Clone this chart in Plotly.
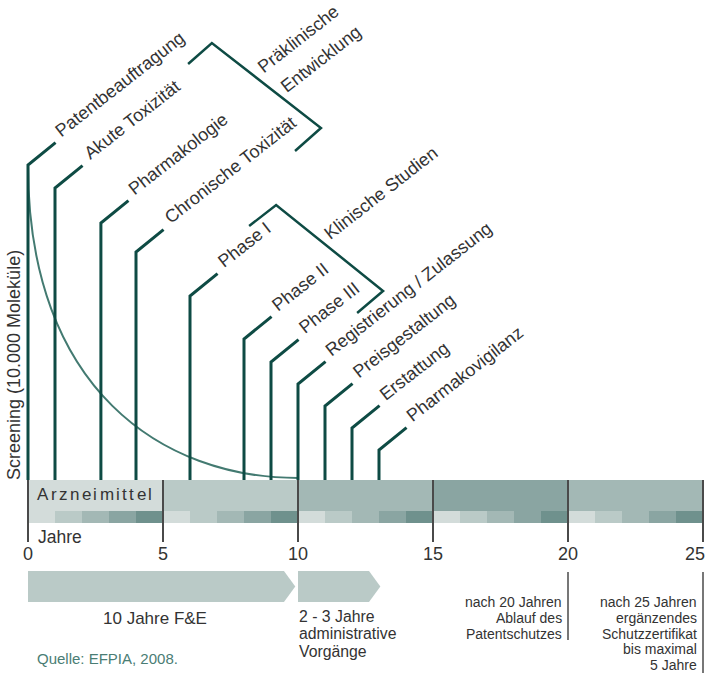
import math
import plotly.graph_objects as go

# ---------------- data ----------------
stem_labels = ["Patentbeauftragung", "Akute Toxizität", "Pharmakologie",
               "Chronische Toxizität", "Phase I", "Phase II", "Phase III",
               "Registrierung / Zulassung", "Preisgestaltung", "Erstattung",
               "Pharmakovigilanz"]
stem_years = [0, 1, 2.7, 4, 6, 8, 9, 10, 11, 12, 13]
stem_tops = [165, 188, 223, 252, 296, 339, 362, 384, 406, 428, 450]

bracket_labels = [["Präklinische", "Entwicklung"], ["Klinische Studien"]]
bracket_years = [[5.93, 6.81, 10.85, 9.89], [8.19, 9.19, 13.15, 12.19]]
bracket_levels = [[64, 43, 128, 151], [226, 205, 291, 313]]

period_starts = [0, 5, 10, 15, 20]
period_shade = [0, 1, 2, 3, 2]
shades = ["#d3dcda", "#bacac7", "#a3b8b5", "#8aa5a2", "#6f918d"]
tick_years = [0, 5, 10, 15, 20, 25]

phase_labels = [["10 Jahre F&E"], ["2 - 3 Jahre", "administrative", "Vorgänge"]]
phase_start = [0, 10]
phase_end = [9.9, 13.05]

note_years = [20, 25]
note_lines = [["nach 20 Jahren", "Ablauf des", "Patentschutzes"],
              ["nach 25 Jahren", "ergänzendes", "Schutzzertifikat", "bis maximal", "5 Jahre"]]

# ---------------- layout geometry ----------------
W_PX, H_PX = 711, 673
X0, PX = 28, 27.0          # pixel of year 0, pixels per year
def yr(p):                  # pixel -> year (for text placement)
    return (p - X0) / PX

FONT = "Liberation Sans, Arial, sans-serif"
TXT = "#333333"
STEM = "#0e4b44"
ARC = "#437a71"
GRID = "#4a4a4a"

BAR_TOP, BAR_MID, BAR_BOT = 480, 511, 523
DIAG_DX, DIAG_DY = 1.02, 22.3
ANG = math.radians(38)
U = (math.cos(ANG), -math.sin(ANG))
N = (-math.sin(ANG), -math.cos(ANG))

AW = {'A': 667, 'C': 722, 'E': 667, 'I': 278, 'K': 667, 'P': 667, 'R': 722, 'S': 667,
      'T': 611, 'Z': 611, 'a': 556, 'b': 556, 'c': 500, 'd': 556, 'e': 556, 'f': 278,
      'g': 556, 'h': 556, 'i': 222, 'j': 222, 'k': 500, 'l': 222, 'm': 833, 'n': 556,
      'o': 556, 'p': 556, 'r': 333, 's': 500, 't': 278, 'u': 556, 'v': 500, 'w': 722,
      'x': 500, 'y': 500, 'z': 500, 'ä': 556, 'ü': 556, ' ': 278, '/': 278}
def text_w(s, fs):
    return sum(AW.get(c, 556) for c in s) * fs / 1000.0

fig = go.Figure()
ann = []

def rot_label(text, sx, sy, fs=18):
    w = text_w(text, fs)
    cx = sx + (w / 2) * U[0] + 0.34 * fs * N[0]
    cy = sy + (w / 2) * U[1] + 0.34 * fs * N[1]
    ann.append(dict(x=yr(cx), y=cy, text=text, textangle=-38, showarrow=False,
                    xanchor="center", yanchor="middle",
                    font=dict(family=FONT, size=fs, color=TXT)))

# timeline bar (period blocks)
fig.add_trace(go.Bar(x=[s + 2.5 for s in period_starts], y=[BAR_MID - BAR_TOP] * 5,
                     base=[BAR_TOP] * 5, width=[5] * 5,
                     marker=dict(color=[shades[k] for k in period_shade], line=dict(width=0)),
                     hoverinfo="skip"))
# yearly shade strip
sx, sc = [], []
for s in period_starts:
    for k in range(5):
        sx.append(s + k + 0.5)
        sc.append(shades[k])
fig.add_trace(go.Bar(x=sx, y=[BAR_BOT - BAR_MID] * len(sx), base=[BAR_MID] * len(sx),
                     width=[1] * len(sx), marker=dict(color=sc, line=dict(width=0)),
                     hoverinfo="skip"))

# stems
GAP = 8
xs, ys = [], []
for x, top, lab in zip(stem_years, stem_tops, stem_labels):
    xs += [x, x, x + DIAG_DX, None]
    ys += [BAR_TOP, top, top - DIAG_DY, None]
    tipx = X0 + PX * (x + DIAG_DX)
    tipy = top - DIAG_DY
    rot_label(lab, tipx + GAP * U[0], tipy + GAP * U[1])
fig.add_trace(go.Scatter(x=xs, y=ys, mode="lines", line=dict(color=STEM, width=3),
                         hoverinfo="skip"))

# brackets
bx, by = [], []
for xs_b, ys_b in zip(bracket_years, bracket_levels):
    bx += xs_b + [None]
    by += ys_b + [None]
fig.add_trace(go.Scatter(x=bx, y=by, mode="lines", line=dict(color=STEM, width=2.5),
                         hoverinfo="skip"))
bracket_text_starts = [[(264, 74), (287, 93.5)], [(330.5, 240.5)]]
for labs, starts in zip(bracket_labels, bracket_text_starts):
    for lab, (px_, py_) in zip(labs, starts):
        rot_label(lab, px_, py_)

# phase arrows
for s, e in zip(phase_start, phase_end):
    body = e - 0.42
    fig.add_trace(go.Scatter(x=[s, body, e, body, s, s], y=[571, 571, 586.5, 602, 602, 571],
                             mode="lines", fill="toself", fillcolor="#bacac7",
                             line=dict(width=0, color="#bacac7"), hoverinfo="skip"))

# phase texts
ann.append(dict(x=(phase_start[0] + phase_end[0]) / 2 - 0.25, y=618, text=phase_labels[0][0],
                showarrow=False, xanchor="center", yanchor="middle", borderpad=0,
                font=dict(family=FONT, size=17, color=TXT)))
FS_PH = 15.8
for i, line in enumerate(phase_labels[1]):
    ann.append(dict(x=phase_start[1], y=616 + 17.8 * i, text=line, showarrow=False,
                    xanchor="left", yanchor="middle", borderpad=0,
                    font=dict(family=FONT, size=FS_PH, color=TXT)))

shapes = []
# dividers / ticks
for t in tick_years:
    shapes.append(dict(type="line", x0=t, x1=t, y0=BAR_TOP, y1=542,
                       line=dict(color=GRID, width=2)))
    tx = t if t < tick_years[-1] else t - 0.3
    ann.append(dict(x=tx, y=554, text=str(t), showarrow=False, xanchor="center",
                    yanchor="middle", font=dict(family=FONT, size=18, color=TXT)))
# note lines and texts
note_ends = [640, 677]
for t, lines, yend in zip(note_years, note_lines, note_ends):
    shapes.append(dict(type="line", x0=t, x1=t, y0=572, y1=yend,
                       line=dict(color=GRID, width=1.5)))
    for i, line in enumerate(lines):
        ann.append(dict(x=t - 0.2, y=602 + 15.75 * i, text=line, showarrow=False,
                        xanchor="right", yanchor="middle", borderpad=0,
                        font=dict(family=FONT, size=14, color=TXT)))

# screening arc
shapes.append(dict(type="path", path="M 0,165 C 0,390 5,478 10,478",
                   line=dict(color=ARC, width=2), layer="below"))

# Arzneimittel (letter spaced)
cur = 37.0
fsA = 17
for ch in "Arzneimittel":
    w = text_w(ch, fsA)
    ann.append(dict(x=yr(cur + w / 2), y=494, text=ch, showarrow=False,
                    xanchor="center", yanchor="middle",
                    font=dict(family=FONT, size=fsA, color=TXT)))
    cur += w + 2.4

ann.append(dict(x=yr(36), y=537, text="Jahre", showarrow=False, xanchor="left",
                yanchor="middle", font=dict(family=FONT, size=17.5, color=TXT)))
ann.append(dict(x=yr(14), y=365, text="Screening (10.000 Moleküle)", textangle=-90,
                showarrow=False, xanchor="center", yanchor="middle",
                font=dict(family=FONT, size=18, color=TXT)))
ann.append(dict(x=yr(35), y=658, text="Quelle: EFPIA, 2008.", showarrow=False,
                xanchor="left", yanchor="middle",
                font=dict(family=FONT, size=15, color="#4a7d74")))

fig.update_layout(
    width=W_PX, height=H_PX, margin=dict(l=0, r=0, t=0, b=0),
    paper_bgcolor="white", plot_bgcolor="white", showlegend=False,
    barmode="overlay", bargap=0,
    xaxis=dict(range=[yr(0), yr(W_PX)], visible=False, fixedrange=True),
    yaxis=dict(range=[H_PX, 0], visible=False, fixedrange=True),
    shapes=shapes, annotations=ann,
)

fig.write_html("out.html", config={"displayModeBar": False},
               post_script="document.body.style.margin='0';document.body.style.overflow='hidden';")
